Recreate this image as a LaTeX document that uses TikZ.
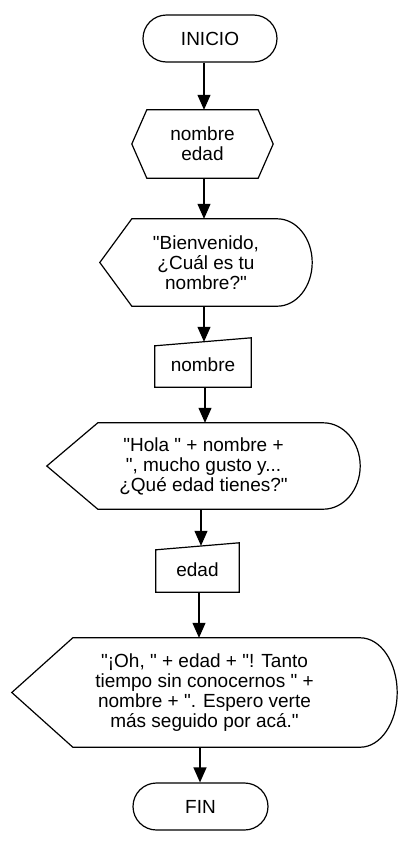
\documentclass[tikz,border=0pt]{standalone}
\usepackage{fontspec}
\setmainfont{Liberation Sans}[Ligatures=TeXOff]
\usetikzlibrary{arrows.meta,calc,shapes.misc}

\tikzset{
  outline/.style={draw=black, line width=1.2pt, line join=miter},
  flow/.style={draw=black, line width=1.2pt, -{Triangle[length=15pt,width=13pt]}},
  term/.style={rounded rectangle, draw=black, line width=1.2pt, minimum width=134pt, minimum height=47pt, inner sep=0pt},
  txt/.style={inner sep=0pt, align=center}
}

% hexagon round a node: name, corner inset
\newcommand{\hexline}[2]{%
  \draw[outline] (#1.west) -- ([xshift=#2]#1.north west) -- ([xshift=-#2]#1.north east)
    -- (#1.east) -- ([xshift=-#2]#1.south east) -- ([xshift=#2]#1.south west) -- cycle;}
% display shape round a node: name, tip inset, arc width
\newcommand{\displine}[3]{%
  \draw[outline] let \p1=(#1.north west), \p2=(#1.south east), \n1={(\y1-\y2)/2} in
    (#1.west) -- (\x1+#2,\y1) -- (\x2-#3,\y1)
    arc[start angle=90, end angle=-90, x radius=#3, y radius=\n1]
    -- (\x1+#2,\y2) -- cycle;}
% manual input round a node: name, slant
\newcommand{\manualline}[2]{%
  \draw[outline] ([yshift=-#2]#1.north west) -- (#1.north east) -- (#1.south east)
    -- (#1.south west) -- cycle;}

\begin{document}
\begin{tikzpicture}[x=1pt, y=-1pt, font=\fontsize{19pt}{20pt}\selectfont]
  \useasboundingbox[fill=white] (0,0) rectangle (406,841);

  % Start
  \node[term] (ini) at (210,38.5) {INICIO};

  % Variables
  \node[txt, minimum width=141pt, minimum height=68pt] (vars) at (202.5,144) {nombre\\edad};

  % Greeting
  \node[txt, minimum width=212pt, minimum height=87pt] (saludo) at (206,262.5) {"Bienvenido,\\¿Cuál es tu\\nombre?"};

  % Read name
  \node[txt, minimum width=96pt, minimum height=49pt] (nombre) at (203,362.5) {};
  \node[txt] at (203,365) {nombre};

  % Ask age
  \node[txt, minimum width=313pt, minimum height=86pt] (pregunta) at (203.5,466) {"Hola " + nombre +\\", mucho gusto y...\\¿Qué edad tienes?"};

  % Read age
  \node[txt, minimum width=83pt, minimum height=49pt] (edad) at (197.5,567.5) {};
  \node[txt] at (197.5,570) {edad};

  % Answer
  \node[txt, minimum width=385pt, minimum height=109pt] (respuesta) at (204.5,692.5) {"¡Oh, " + edad + "! Tanto\\tiempo sin conocernos " +\\nombre + ". Espero verte\\más seguido por acá."};

  % End
  \node[term, minimum width=135pt] (fin) at (200.5,806.5) {FIN};

  % Outlines
  \hexline{vars}{15pt}
  \displine{saludo}{32pt}{35pt}
  \manualline{nombre}{8pt}
  \displine{pregunta}{51pt}{37pt}
  \manualline{edad}{7pt}
  \displine{respuesta}{61pt}{37pt}

  % Flow lines
  \draw[flow] ($(ini.south)+(-6pt,0pt)$) -- ($(ini.south |- vars.north)+(-6pt,0pt)$);
  \draw[flow] ($(vars.south)+(1.5pt,0pt)$) -- ($(vars.south |- saludo.north)+(1.5pt,0pt)$);
  \draw[flow] ($(saludo.south)+(-2pt,0pt)$) -- ($(saludo.south |- nombre.north)+(-2pt,-4pt)$);
  \draw[flow] ($(nombre.south)+(2pt,0pt)$) -- ($(nombre.south |- pregunta.north)+(2pt,0pt)$);
  \draw[flow] ($(pregunta.south)+(-2.5pt,0pt)$) -- ($(pregunta.south |- edad.north)+(-2.5pt,-3pt)$);
  \draw[flow] ($(edad.south)+(1.5pt,0pt)$) -- ($(edad.south |- respuesta.north)+(1.5pt,0pt)$);
  \draw[flow] ($(respuesta.south)+(-4.5pt,0pt)$) -- ($(respuesta.south |- fin.north)+(-4.5pt,0pt)$);
\end{tikzpicture}
\end{document}
